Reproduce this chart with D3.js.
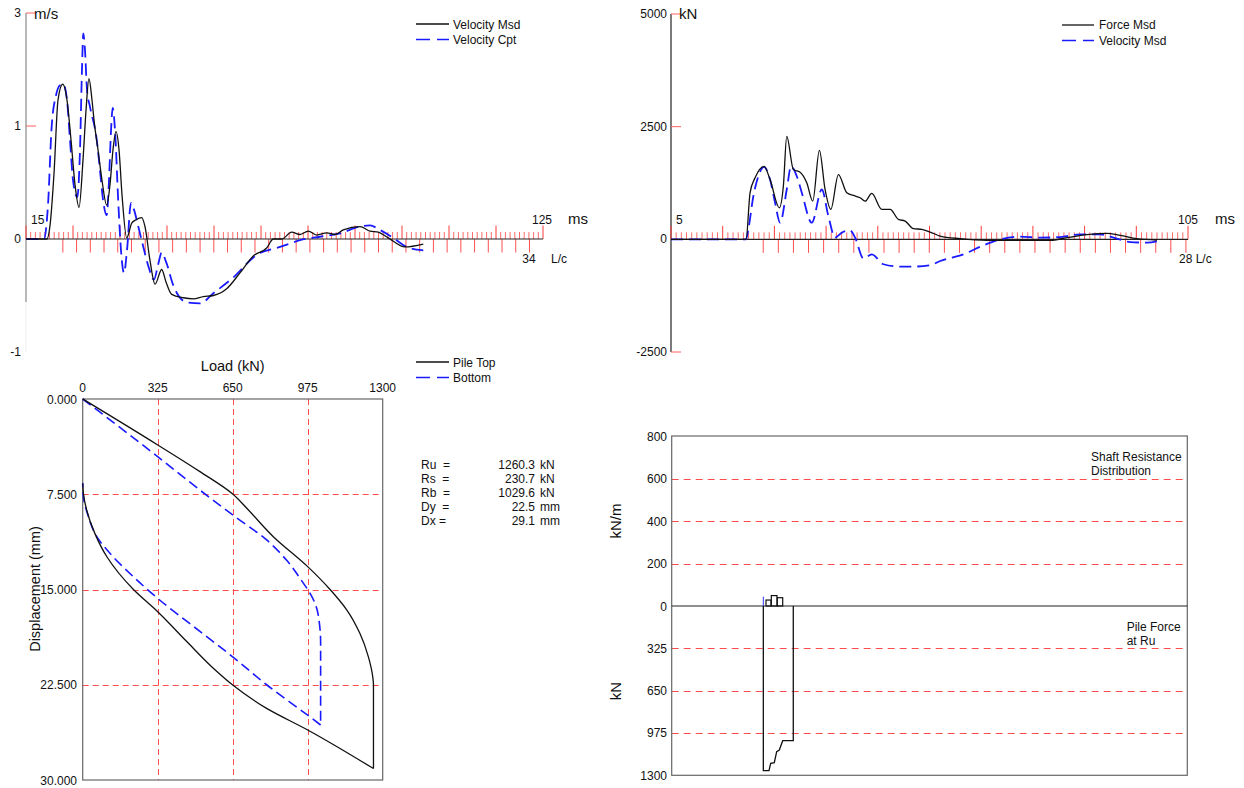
<!DOCTYPE html>
<html><head><meta charset="utf-8">
<script src="https://cdn.jsdelivr.net/npm/d3@7"></script>
<style>
body{margin:0;background:#fff;}
svg{display:block;font-family:"Liberation Sans",Arial,sans-serif;}
</style>
</head><body>
<svg id="c" width="1244" height="788"></svg>
<script>
// ---------------- DATA ----------------
// Top-left: velocity (m/s) vs time (ms)
const velMsdT = [15,19.47,20.11,20.96,21.81,22.81,23.72,24.57,25.43,26.28,27.13,27.77,28.40,29.04,29.53,30.32,31.17,32.17,32.87,33.51,34.15,34.79,35.43,36.43,37.49,38.40,39.62,40.32,41.38,42.45,43.87,44.79,46.0,48.47,50.6,52.72,54.85,57.70,60.53,63.36,66.21,67.62,69.40,71.53,73.30,75.06,76.85,78.98,80.74,82.51,86.06,88.19,89.96,92.09,95.64,99.53];
const velMsdV = [0,0,0.12,0.58,1.23,1.37,1.23,0.88,0.48,0.28,0.70,1.14,1.42,1.23,1.03,0.79,0.52,0.30,0.48,0.79,0.95,0.79,0.39,0.01,0.14,0.17,0.19,0.11,-0.19,-0.40,-0.27,-0.38,-0.49,-0.52,-0.53,-0.51,-0.50,-0.44,-0.30,-0.15,-0.08,0.0,0.0,0.06,0.04,0.07,0.035,0.055,0.04,0.08,0.11,0.07,0.06,0.01,-0.07,-0.045];
const velCptT = [15,18.83,19.68,20.47,21.38,22.23,22.94,23.72,24.36,25.0,25.91,26.49,26.91,27.19,27.55,27.98,28.62,30.04,30.74,31.38,32.17,32.66,33.09,33.45,33.94,34.64,35.21,35.85,36.49,37.34,37.98,38.83,39.96,40.96,42.23,43.09,43.87,44.79,46.34,49.19,52.02,54.85,59.11,64.09,69.04,71.87,73.30,77.55,81.81,86.06,88.19,90.32,93.15,96.0,99.53];
const velCptV = [0,0,0.30,1.00,1.27,1.36,1.37,1.23,0.88,0.52,0.37,0.79,1.50,1.82,1.67,1.32,1.17,0.88,0.61,0.35,0.21,0.52,0.96,1.16,0.96,0.32,-0.10,-0.30,-0.10,0.32,0.26,0.12,-0.07,-0.23,-0.36,-0.23,-0.12,-0.20,-0.41,-0.56,-0.57,-0.48,-0.34,-0.14,-0.07,-0.03,-0.01,0.02,0.05,0.11,0.12,0.08,0.01,-0.07,-0.10];
const velYTickValues = [2,1,0,-1];
const velYTickLabels = ["3","1","0","-1"];

// Top-right: force (kN) vs time (ms)
const forceT = [5,19.52,20.29,21.26,23.0,24.16,25.96,26.73,27.39,28.67,29.97,31.26,32.42,33.70,34.80,35.91,37.38,39.0,40.28,41.58,42.55,43.84,45.78,47.38,48.99,50.29,51.89,53.52,55.13,57.06,60.93,66.10,72.54,78.35,81.58,85.45,89.32,91.90,95.13,99.0];
const forceV = [0,0,1033,1365,1621,1327,701,1179,2285,1548,1489,1254,847,1975,1106,664,1438,1033,973,922,847,1018,664,664,442,405,237,221,161,73,15,-22,-22,-22,38,104,133,88,15,-15];
const velZT = [5,19.52,19.96,20.93,21.90,23.0,24.16,25.13,26.10,27.39,28.22,29.33,30.30,32.23,34.17,35.44,36.74,38.04,39.64,40.61,42.22,43.84,46.09,49.32,51.89,55.13,57.06,61.57,65.44,68.67,72.54,76.42,80.29,84.16,88.03,90.61,93.84,97.07,99.31];
const velZV = [0,0,221,958,1400,1608,1327,812,369,1106,1621,1400,1033,369,1106,515,38,148,199,38,-427,-332,-553,-604,-604,-575,-480,-332,-133,0,60,38,51,111,111,38,-60,-73,-38];
const forceYTickValues = [5000,2500,0,-2500];
const forceYTickLabels = ["5000","2500","0","-2500"];

// L/c markers
const impactMs = 22.84;
const lcPeriodMs = 2.92;

// Bottom-left: load (kN) vs displacement (mm)
const topLoadLoad = [0,325,508,650,711,826,975,1072,1144,1201,1238,1257,1260,1260];
const topLoadDisp = [0,3.62,5.72,7.48,8.6,10.84,13.2,15.0,16.6,18.45,20.3,21.9,22.5,29.1];
const topUnloadLoad = [1260,975,797,650,566,451,325,220,104,53,17,3,0];
const topUnloadDisp = [29.1,26.06,24.36,22.52,21.2,19.1,16.75,15.0,12.4,10.6,8.74,7.43,6.64];
const botLoadLoad = [0,325,508,650,797,884,956,975,1007,1026,1031,1031];
const botLoadDisp = [0,4.54,7.17,9.13,11.1,12.7,14.5,15.0,16.1,17.7,19.2,25.67];
const botUnloadLoad = [1031,975,797,650,508,325,220,118,61,25,3,0];
const botUnloadDisp = [25.67,24.9,22.5,20.3,18.3,15.7,14.0,12.15,10.84,9.27,7.69,6.64];
const loadTicks = [0,325,650,975,1300];
const dispTicks = [0,7.5,15,22.5,30];

const statLabels = ["Ru  =","Rs  =","Rb  =","Dy  =","Dx ="];
const statValues = ["1260.3","230.7","1029.6","22.5","29.1"];
const statUnits = ["kN","kN","kN","mm","mm"];

// Bottom-right: shaft resistance & pile force along pile (position units)
const shaftStart = [18.29,19.32,20.48];
const shaftEnd = [19.26,20.42,21.53];
const shaftVal = [28,49,39];
const shaftMarkPos = 17.77, shaftMarkVal = 44;
const pileForcePos = [17.77,17.77,18.87,19.2,19.9,20.36,20.87,21.53,23.58,23.58];
const pileForceVal = [0,1264,1264,1208,1203,1119,1106,1034,1034,0];
const shaftTicks = [800,600,400,200,0];
const forceTicks = [325,650,975,1300];

// ---------------- DRAW ----------------
const svg = d3.select("#c");
const RED = "#ff4d4d";
const FONT = 12;

function txt(x,y,s,opt={}){
  return svg.append("text").attr("x",x).attr("y",y).text(s)
    .attr("font-size",opt.size||FONT).attr("fill",opt.fill||"#111")
    .attr("text-anchor",opt.anchor||"start")
    .style("white-space","pre");
}

function timeAxis(x, y0, msFrom, msTo, lcCount){
  const g = svg.append("g");
  d3.range(msFrom, msTo+1).forEach(ms=>{
    const major = (ms % 10) === 5;
    g.append("line").attr("x1",x(ms)).attr("x2",x(ms))
      .attr("y1",y0).attr("y2",y0-(major?13.5:7))
      .attr("stroke",major?"#ff3b3b":"#ff6b6b").attr("stroke-width",1);
  });
  d3.range(0, lcCount+1).forEach(i=>{
    const xx = x(impactMs + i*lcPeriodMs);
    g.append("line").attr("x1",xx).attr("x2",xx)
      .attr("y1",y0).attr("y2",y0+13.5)
      .attr("stroke","#ff5050").attr("stroke-width",1);
  });
  g.append("line").attr("x1",x(msFrom)).attr("x2",x(msTo))
    .attr("y1",y0).attr("y2",y0).attr("stroke","#222").attr("stroke-width",1.2);
}

// ===== Top-left =====
const x1 = d3.scaleLinear().domain([15,125]).range([26,543]);
const y1 = d3.scaleLinear().domain([0,1]).range([239,126]);
svg.append("line").attr("x1",26).attr("x2",26).attr("y1",y1(2)).attr("y2",302).attr("stroke","#888").attr("stroke-width",1.2);
svg.append("line").attr("x1",26).attr("x2",26).attr("y1",302).attr("y2",y1(-1)).attr("stroke","#eee").attr("stroke-width",1);
velYTickValues.forEach((v,i)=>{
  if(v>0) svg.append("line").attr("x1",26).attr("x2",36).attr("y1",y1(v)).attr("y2",y1(v)).attr("stroke","#ff6060");
  txt(21,y1(v)+4,velYTickLabels[i],{anchor:"end"});
});
txt(34,19,"m/s",{size:15});
timeAxis(x1,239,15,125,34);
txt(31,224,"15");
txt(542,224,"125",{anchor:"middle"});
txt(568,224,"ms",{size:15});
txt(529,263,"34",{anchor:"middle"});
txt(551,263,"L/c");

const lineTL = d3.line().curve(d3.curveMonotoneX);
svg.append("path").attr("d",lineTL(velCptT.map((t,i)=>[x1(t),y1(velCptV[i])])))
  .attr("fill","none").attr("stroke","#1a1aff").attr("stroke-width",1.8).attr("stroke-dasharray","12,6");
svg.append("path").attr("d",lineTL(velMsdT.map((t,i)=>[x1(t),y1(velMsdV[i])])))
  .attr("fill","none").attr("stroke","#111").attr("stroke-width",1.3);

// legend TL
svg.append("line").attr("x1",416).attr("x2",449).attr("y1",24).attr("y2",24).attr("stroke","#111").attr("stroke-width",1.3);
svg.append("line").attr("x1",416).attr("x2",449).attr("y1",39.5).attr("y2",39.5).attr("stroke","#1a1aff").attr("stroke-width",1.5).attr("stroke-dasharray","14,7");
txt(453,28.5,"Velocity Msd");
txt(453,44,"Velocity Cpt");

// ===== Top-right =====
const x2 = d3.scaleLinear().domain([5,105]).range([671,1188]);
const y2 = d3.scaleLinear().domain([-2500,5000]).range([352,14]);
svg.append("line").attr("x1",671).attr("x2",671).attr("y1",y2(5000)).attr("y2",y2(-2500)).attr("stroke","#222").attr("stroke-width",1.2);
forceYTickValues.forEach((v,i)=>{
  if(v!==0) svg.append("line").attr("x1",671).attr("x2",681).attr("y1",y2(v)).attr("y2",y2(v)).attr("stroke","#ff6060");
  txt(667,y2(v)+4,forceYTickLabels[i],{anchor:"end"});
});
txt(679,19,"kN",{size:15});
timeAxis(x2,y2(0),5,105,28);
txt(676,224,"5");
txt(1188,224,"105",{anchor:"middle"});
txt(1215,224,"ms",{size:15});
txt(1179,263,"28 L/c");

svg.append("path").attr("d",lineTL(velZT.map((t,i)=>[x2(t),y2(velZV[i])])))
  .attr("fill","none").attr("stroke","#1a1aff").attr("stroke-width",1.8).attr("stroke-dasharray","12,6");
svg.append("path").attr("d",lineTL(forceT.map((t,i)=>[x2(t),y2(forceV[i])])))
  .attr("fill","none").attr("stroke","#111").attr("stroke-width",1.3);

svg.append("line").attr("x1",1062).attr("x2",1094).attr("y1",25).attr("y2",25).attr("stroke","#111").attr("stroke-width",1.3);
svg.append("line").attr("x1",1062).attr("x2",1094).attr("y1",40.5).attr("y2",40.5).attr("stroke","#1a1aff").attr("stroke-width",1.5).attr("stroke-dasharray","14,7");
txt(1099,29,"Force Msd");
txt(1099,44.5,"Velocity Msd");

// ===== Bottom-left =====
const x3 = d3.scaleLinear().domain([0,1300]).range([82.7,382.7]);
const y3 = d3.scaleLinear().domain([0,30]).range([399,780]);
loadTicks.slice(1,-1).forEach(v=>{
  svg.append("line").attr("x1",Math.round(x3(v))+0.5).attr("x2",Math.round(x3(v))+0.5).attr("y1",y3(0)).attr("y2",y3(30))
    .attr("stroke",RED).attr("stroke-width",1).attr("stroke-dasharray","6,4");
});
dispTicks.slice(1,-1).forEach(v=>{
  svg.append("line").attr("x1",x3(0)).attr("x2",x3(1300)).attr("y1",Math.round(y3(v))+0.5).attr("y2",Math.round(y3(v))+0.5)
    .attr("stroke",RED).attr("stroke-width",1).attr("stroke-dasharray","6,4");
});
svg.append("rect").attr("x",x3(0)).attr("y",y3(0)).attr("width",x3(1300)-x3(0)).attr("height",y3(30)-y3(0))
  .attr("fill","none").attr("stroke","#666").attr("stroke-width",1.2);
loadTicks.forEach(v=>txt(x3(v),392,String(v),{anchor:"middle"}));
dispTicks.forEach(v=>txt(77,y3(v)+4.5,d3.format(".3f")(v),{anchor:"end"}));
txt(232.7,371,"Load (kN)",{size:14.5,anchor:"middle"});
svg.append("text").attr("transform","translate(40,589) rotate(-90)").attr("text-anchor","middle")
  .attr("font-size",14.5).attr("fill","#111").text("Displacement (mm)");

const mono = d3.line().curve(d3.curveMonotoneY);
function plotLD(L,D,color,w,dash){
  const p = svg.append("path").attr("d",mono(L.map((l,i)=>[x3(l),y3(D[i])])))
    .attr("fill","none").attr("stroke",color).attr("stroke-width",w);
  if(dash) p.attr("stroke-dasharray",dash);
}
plotLD(botLoadLoad,botLoadDisp,"#1a1aff",1.6,"10,5");
plotLD(botUnloadLoad,botUnloadDisp,"#1a1aff",1.6,"10,5");
plotLD(topLoadLoad,topLoadDisp,"#111",1.3);
plotLD(topUnloadLoad,topUnloadDisp,"#111",1.3);

svg.append("line").attr("x1",416).attr("x2",449).attr("y1",362).attr("y2",362).attr("stroke","#111").attr("stroke-width",1.3);
svg.append("line").attr("x1",416).attr("x2",449).attr("y1",377.5).attr("y2",377.5).attr("stroke","#1a1aff").attr("stroke-width",1.5).attr("stroke-dasharray","14,7");
txt(453,366.5,"Pile Top");
txt(453,382,"Bottom");

statLabels.forEach((s,i)=>{
  const yy = [468.5,482.8,496.8,510.5,524.5][i];
  txt(421,yy,s);
  txt(535,yy,statValues[i],{anchor:"end"});
  txt(540,yy,statUnits[i]);
});

// ===== Bottom-right =====
const xp = d3.scaleLinear().domain([0,100]).range([671.7,1187.3]);
const yS = d3.scaleLinear().domain([0,800]).range([606,436]);
const yF = d3.scaleLinear().domain([0,1300]).range([606,775.3]);
shaftTicks.slice(1,-1).forEach(v=>{
  svg.append("line").attr("x1",xp(0)).attr("x2",xp(100)).attr("y1",Math.round(yS(v))+0.5).attr("y2",Math.round(yS(v))+0.5)
    .attr("stroke",RED).attr("stroke-width",1).attr("stroke-dasharray","7,5");
});
forceTicks.slice(0,-1).forEach(v=>{
  svg.append("line").attr("x1",xp(0)).attr("x2",xp(100)).attr("y1",Math.round(yF(v))+0.5).attr("y2",Math.round(yF(v))+0.5)
    .attr("stroke",RED).attr("stroke-width",1).attr("stroke-dasharray","7,5");
});
svg.append("rect").attr("x",xp(0)).attr("y",yS(800)).attr("width",xp(100)-xp(0)).attr("height",yF(1300)-yS(800))
  .attr("fill","none").attr("stroke","#666").attr("stroke-width",1.2);
svg.append("line").attr("x1",xp(0)).attr("x2",xp(100)).attr("y1",yS(0)).attr("y2",yS(0)).attr("stroke","#222").attr("stroke-width",1.2);
shaftTicks.forEach(v=>txt(667,yS(v)+4.5,String(v),{anchor:"end"}));
forceTicks.forEach(v=>txt(667,yF(v)+4.5,String(v),{anchor:"end"}));
svg.append("text").attr("transform","translate(621,521) rotate(-90)").attr("text-anchor","middle")
  .attr("font-size",15).attr("fill","#111").text("kN/m");
svg.append("text").attr("transform","translate(621,691) rotate(-90)").attr("text-anchor","middle")
  .attr("font-size",15).attr("fill","#111").text("kN");
txt(1091,461,"Shaft Resistance");
txt(1091,474.5,"Distribution");
txt(1126.7,631,"Pile Force");
txt(1126.7,644.5,"at Ru");

// shaft bars
shaftVal.forEach((v,i)=>{
  svg.append("rect").attr("x",xp(shaftStart[i])).attr("y",yS(v))
    .attr("width",xp(shaftEnd[i])-xp(shaftStart[i])).attr("height",yS(0)-yS(v))
    .attr("fill","none").attr("stroke","#111").attr("stroke-width",1.2);
});
svg.append("line").attr("x1",xp(shaftMarkPos)).attr("x2",xp(shaftMarkPos))
  .attr("y1",yS(0)).attr("y2",yS(shaftMarkVal)).attr("stroke","#3030ff").attr("stroke-width",1);
// pile force
svg.append("path").attr("d",d3.line()(pileForcePos.map((p,i)=>[xp(p),yF(pileForceVal[i])])))
  .attr("fill","none").attr("stroke","#111").attr("stroke-width",1.3);
</script>
</body></html>
